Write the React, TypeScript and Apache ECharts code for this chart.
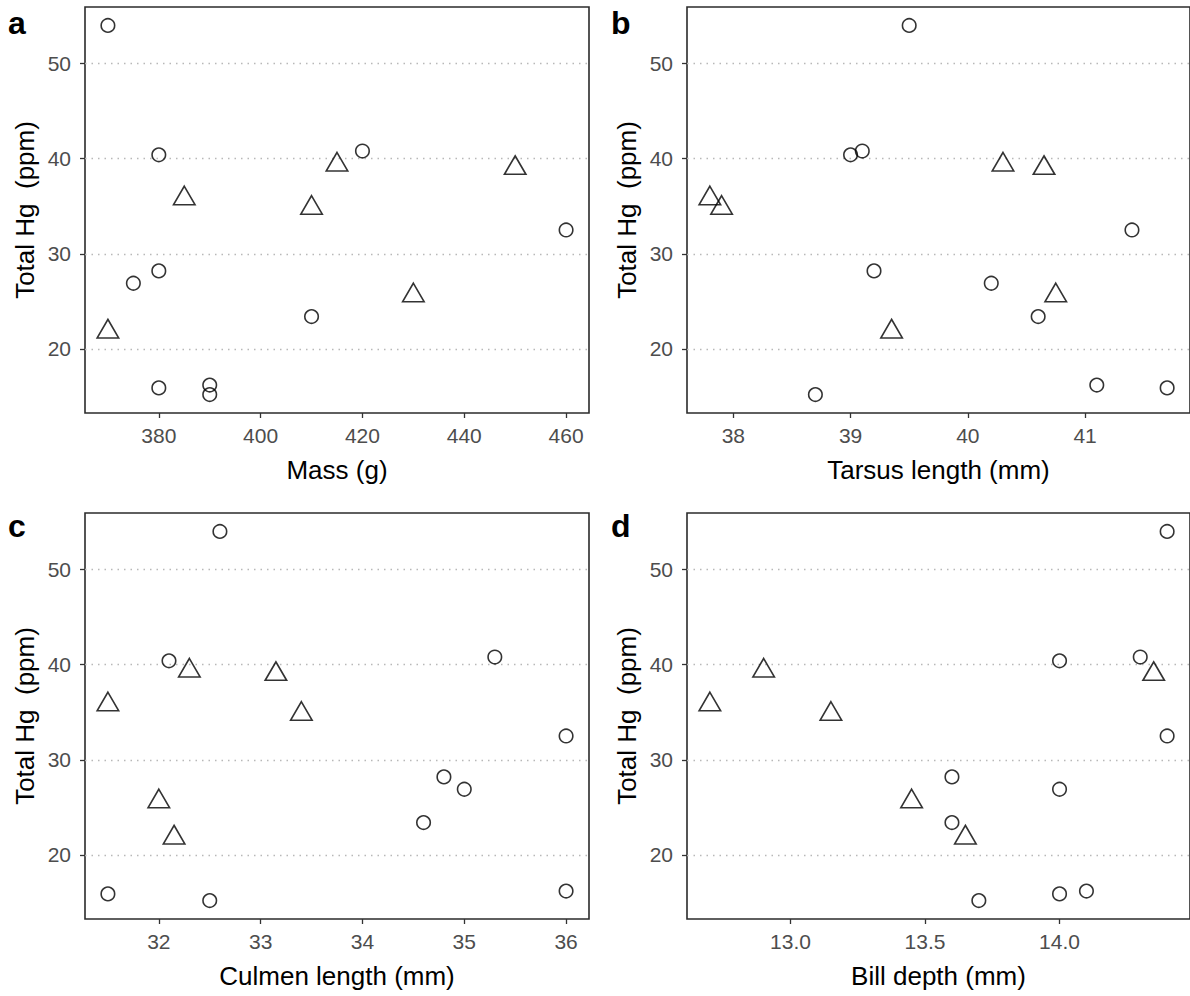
import React, { useEffect, useRef } from "react";
import * as echarts from "echarts";

// Total Hg (ppm) for circle birds and triangle birds
const hgCircle = [54.0, 40.4, 40.8, 32.5, 28.2, 26.9, 23.4, 15.9, 16.2, 15.2];
const hgTriangle = [21.8, 35.8, 34.8, 39.35, 25.6, 39.0];

// Morphometrics, same bird order as above
const massCircle = [370, 380, 420, 460, 380, 375, 410, 380, 390, 390];
const massTriangle = [370, 385, 410, 415, 430, 450];
const tarsusCircle = [39.5, 39.0, 39.1, 41.4, 39.2, 40.2, 40.6, 41.7, 41.1, 38.7];
const tarsusTriangle = [39.35, 37.8, 37.9, 40.3, 40.75, 40.65];
const culmenCircle = [32.6, 32.1, 35.3, 36.0, 34.8, 35.0, 34.6, 31.5, 36.0, 32.5];
const culmenTriangle = [32.15, 31.5, 33.4, 32.3, 32.0, 33.15];
const billCircle = [14.4, 14.0, 14.3, 14.4, 13.6, 14.0, 13.6, 14.0, 14.1, 13.7];
const billTriangle = [13.65, 12.7, 13.15, 12.9, 13.45, 14.35];

// Tick labels
const yTicks = [20, 30, 40, 50];
const massTicks = [380, 400, 420, 440, 460];
const tarsusTicks = [38, 39, 40, 41];
const culmenTicks = [32, 33, 34, 35, 36];
const billTicks = [13.0, 13.5, 14.0];

const panelLetters = ["a", "b", "c", "d"];
const xTitles = ["Mass (g)", "Tarsus length (mm)", "Culmen length (mm)", "Bill depth (mm)"];
const yTitle = "Total Hg\u00a0 (ppm)";

const FONT = "'Liberation Sans', Arial, sans-serif";

function expandRange(a: number[], b: number[]): [number, number] {
  const all = a.concat(b);
  const lo = Math.min(...all);
  const hi = Math.max(...all);
  const pad = (hi - lo) * 0.05;
  return [lo - pad, hi + pad];
}

export default function App() {
  const ref = useRef<HTMLDivElement>(null);

  useEffect(() => {
    if (!ref.current) return;
    const chart = echarts.init(ref.current, undefined, { renderer: "svg" });

    const panels = [
      { xc: massCircle, xt: massTriangle, ticks: massTicks, fmt: (v: number) => String(v) },
      { xc: tarsusCircle, xt: tarsusTriangle, ticks: tarsusTicks, fmt: (v: number) => String(v) },
      { xc: culmenCircle, xt: culmenTriangle, ticks: culmenTicks, fmt: (v: number) => String(v) },
      { xc: billCircle, xt: billTriangle, ticks: billTicks, fmt: (v: number) => v.toFixed(1) },
    ];

    const gridPos = [
      { left: 85, top: 7 },
      { left: 687, top: 7 },
      { left: 85, top: 513 },
      { left: 687, top: 513 },
    ];
    const W = 504;
    const H = 406;

    const [yMin, yMax] = expandRange(hgCircle, hgTriangle);

    const grids = gridPos.map((g) => ({
      left: g.left,
      top: g.top,
      width: W,
      height: H,
      show: true,
      borderColor: "#2b2b2b",
      borderWidth: 1.6,
      backgroundColor: "transparent",
      containLabel: false,
    }));

    const xAxes = panels.map((p, i) => {
      const [mn, mx] = expandRange(p.xc, p.xt);
      return {
        type: "value",
        gridIndex: i,
        min: mn,
        max: mx,
        name: xTitles[i],
        nameLocation: "middle",
        nameGap: 44,
        nameTextStyle: { fontFamily: FONT, fontSize: 26, color: "#000000" },
        axisLine: { show: false },
        axisTick: { show: true, length: 5, customValues: p.ticks, lineStyle: { color: "#333333", width: 1.3 } },
        axisLabel: {
          show: true,
          customValues: p.ticks,
          margin: 12,
          fontFamily: FONT,
          fontSize: 21,
          color: "#4d4d4d",
          formatter: p.fmt,
        },
        splitLine: { show: false },
        minorTick: { show: false },
      };
    });

    const yAxes = panels.map((_, i) => ({
      type: "value",
      gridIndex: i,
      min: yMin,
      max: yMax,
      name: yTitle,
      nameLocation: "middle",
      nameGap: 47,
      nameTextStyle: { fontFamily: FONT, fontSize: 26, color: "#000000" },
      axisLine: { show: false },
      axisTick: { show: true, length: 5, customValues: yTicks, lineStyle: { color: "#333333", width: 1.3 } },
      axisLabel: {
        show: true,
        customValues: yTicks,
        margin: 14,
        fontFamily: FONT,
        fontSize: 21,
        color: "#4d4d4d",
      },
      splitLine: {
        show: true,
        lineStyle: { color: "#b8b8b8", width: 1.3, type: [1.5, 5] },
      },
      minorTick: { show: false },
    }));

    const series: any[] = [];
    panels.forEach((p, i) => {
      series.push({
        type: "scatter",
        xAxisIndex: i,
        yAxisIndex: i,
        symbol: "circle",
        symbolSize: 13.5,
        itemStyle: { color: "rgba(0,0,0,0)", borderColor: "#000000", borderWidth: 1.6 },
        data: p.xc.map((x, k) => [x, hgCircle[k]]),
        z: 3,
      });
      series.push({
        type: "scatter",
        xAxisIndex: i,
        yAxisIndex: i,
        symbol: "triangle",
        symbolSize: [21.5, 18.5],
        symbolOffset: [0, -3.1],
        itemStyle: { color: "rgba(0,0,0,0)", borderColor: "#000000", borderWidth: 1.6 },
        data: p.xt.map((x, k) => [x, hgTriangle[k]]),
        z: 3,
      });
    });

    const letterPos = [
      { x: 8, y: 23 },
      { x: 611, y: 23 },
      { x: 8, y: 526 },
      { x: 611, y: 526 },
    ];
    const graphic = letterPos.map((p, i) => ({
      type: "text",
      x: p.x,
      y: p.y,
      style: {
        text: panelLetters[i],
        fontFamily: FONT,
        fontSize: 32,
        fontWeight: "bold",
        fill: "#000000",
        textVerticalAlign: "middle",
        verticalAlign: "middle",
      },
    }));

    chart.setOption({
      animation: false,
      backgroundColor: "#ffffff",
      grid: grids,
      xAxis: xAxes,
      yAxis: yAxes,
      series,
      graphic,
    });

    return () => chart.dispose();
  }, []);

  return (
    <div
      ref={ref}
      style={{ position: "absolute", left: 0, top: 0, width: 1190, height: 996 }}
    />
  );
}
